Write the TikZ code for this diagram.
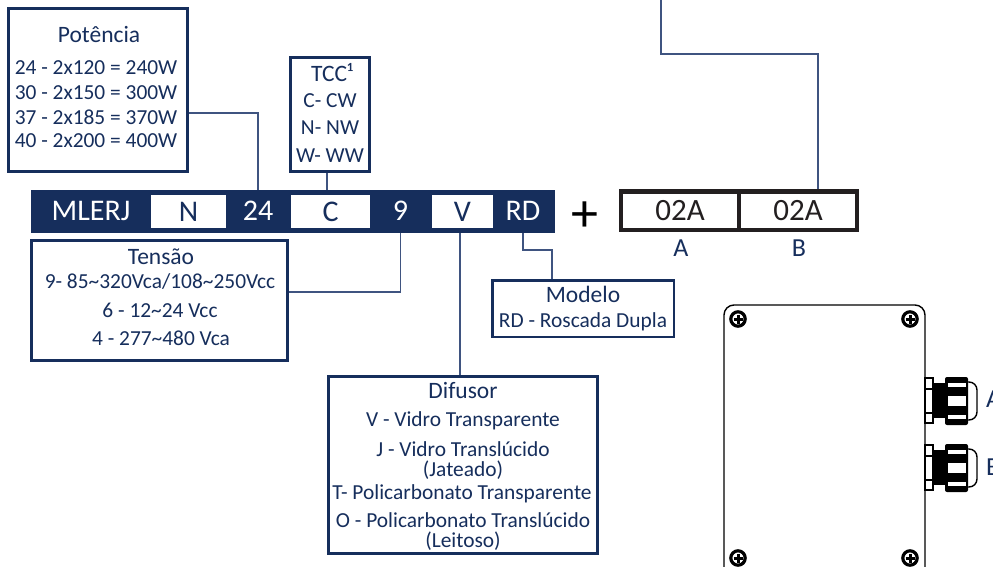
\documentclass[tikz,border=0pt]{standalone}
\usepackage{fontspec}
\setmainfont{Carlito}
\definecolor{navy}{HTML}{162E5C}
\definecolor{linkblue}{HTML}{3F5480}
\definecolor{framegray}{HTML}{231F20}
\tikzset{
	bluebox/.style={draw=navy,line width=3pt,fill=white,inner sep=0pt},
	thinbox/.style={bluebox,line width=2.5pt},
	cell/.style={fill=white,inner sep=0pt,text=navy,font=\fontsize{30}{34}\selectfont,minimum height=33pt},
	barcell/.style={inner sep=0pt,text=white,font=\fontsize{30}{34}\selectfont},
	codecell/.style={draw=framegray,line width=4.5pt,inner sep=0pt,text=framegray,font=\fontsize{31}{34}\selectfont,minimum height=38.5pt,minimum width=118pt},
	txt/.style={inner sep=0pt,text=navy,font=\fontsize{21.4}{25}\selectfont},
	twolines/.style={txt,align=center,font=\fontsize{21.4}{20}\selectfont},
	head/.style={inner sep=0pt,text=navy,font=\fontsize{23.5}{27}\selectfont},
	letter/.style={inner sep=0pt,text=navy,font=\fontsize{26}{30}\selectfont},
	link/.style={draw=linkblue,line width=1.4pt},
}
\begin{document}
\begin{tikzpicture}[x=1pt,y=-1pt]
	\useasboundingbox (0,0) rectangle (993,567);
	\clip (0,0) rectangle (993,567);

	% code bar
	\node[fill=navy,inner sep=0pt,minimum width=524pt,minimum height=43pt] (bar) at (293,211.5) {};
	\node[barcell] (mlerj) at (91,211) {MLERJ};
	\node[cell,minimum width=75pt] (cellN) at (188.5,211.5) {N};
	\node[barcell] (cell24) at (258,211) {24};
	\node[cell,minimum width=79pt] (cellC) at (330.5,211.5) {C};
	\node[barcell] (cell9) at (400.5,211) {9};
	\node[cell,minimum width=61pt] (cellV) at (462.5,211.5) {V};
	\node[barcell] (cellRD) at (523,211) {RD};
	\node[inner sep=0pt,font=\fontsize{54}{58}\selectfont] (plus) at (585,217) {+};

	% lamp codes
	\node[codecell] (codeA) at (680,210.5) {02A};
	\node[codecell] (codeB) at (798,210.5) {02A};
	\node[letter] (labelA) at (681,248) {A};
	\node[letter] (labelB) at (799,248) {B};

	% potencia
	\node[bluebox,minimum width=179pt,minimum height=162pt] (potencia) at (98,90) {};
	\node[head] (potTitle) at (99,35) {Potência};
	\node[txt] (pot24) at (96,68) {24 - 2x120 = 240W};
	\node[txt] (pot30) at (96,93) {30 - 2x150 = 300W};
	\node[txt] (pot37) at (96,117) {37 - 2x185 = 370W};
	\node[txt] (pot40) at (96,141) {40 - 2x200 = 400W};

	% tcc
	\node[thinbox,minimum width=79pt,minimum height=114pt] (tcc) at (330,114.5) {};
	\node[head] (tccTitle) at (332,73) {TCC¹};
	\node[txt] (tccC) at (330,101) {C- CW};
	\node[txt] (tccN) at (330,128) {N- NW};
	\node[txt] (tccW) at (330,156) {W- WW};

	% tensao
	\node[bluebox,minimum width=256pt,minimum height=120pt] (tensao) at (159.5,300.5) {};
	\node[head] (tenTitle) at (161,257) {Tensão};
	\node[txt] (ten9) at (160,282) {9- 85\textasciitilde320Vca/108\textasciitilde250Vcc};
	\node[txt] (ten6) at (160,310) {6 - 12\textasciitilde24 Vcc};
	\node[txt] (ten4) at (161,338) {4 - 277\textasciitilde480 Vca};

	% modelo
	\node[thinbox,minimum width=181.5pt,minimum height=56.5pt] (modelo) at (583,308.5) {};
	\node[head] (modTitle) at (583,294) {Modelo};
	\node[txt] (modRD) at (583,322) {RD - Roscada Dupla};

	% difusor
	\node[bluebox,minimum width=269pt,minimum height=177pt] (difusor) at (463,465) {};
	\node[head] (difTitle) at (463,390) {Difusor};
	\node[txt] (difV) at (463,421) {V - Vidro Transparente};
	\node[twolines] (difJ) at (463,461) {J - Vidro Translúcido\\(Jateado)};
	\node[txt] (difT) at (462,494) {T- Policarbonato Transparente};
	\node[twolines] (difO) at (463,532) {O - Policarbonato Translúcido\\(Leitoso)};

	% connectors
	\coordinate (topEnd) at (661,0);
	\coordinate (topBend) at (818,54);
	\coordinate (potBend) at (258,113);
	\coordinate (tenBend) at (400.5,292);
	\coordinate (rdBend) at (552,250);
	\coordinate (tccFoot) at (327,190);
	\coordinate (difTop) at (460,233);
	\draw[link] (potencia.east |- potBend) -| (cell24 |- bar.north);
	\draw[link] (tccFoot |- tcc.south) -- (tccFoot);
	\draw[link] (tensao.east |- tenBend) -| (cell9 |- bar.south);
	\draw[link] (cellRD |- bar.south) |- (rdBend) -- (rdBend |- modelo.north);
	\draw[link] (difTop) -- (difTop |- difusor.north);
	\draw[link] (topEnd) |- (topBend) -- (topBend |- codeB.north);

	% junction box
	\draw[line width=1.4pt,rounded corners=10pt] (724,600) -- (724,305) -- (925,305) -- (925,600);
	\foreach \sx/\sy in {738/319,910/319,738/558,910/558}
	{
		\draw[line width=3.2pt] (\sx,\sy) circle (7.2);
		\draw[line width=3pt] (\sx-4.5,\sy) -- (\sx+4.5,\sy);
		\draw[line width=3pt] (\sx,\sy-4.5) -- (\sx,\sy+4.5);
	}

	% cable glands
	\foreach \gy in {0,67}
	{
		\begin{scope}[yshift=-\gy pt]
			\draw[line width=1.3pt,fill=white] (925,378) rectangle (933,423);
			\draw[line width=1.3pt] (925,389) -- (933,389);
			\draw[line width=1.3pt] (925,413) -- (933,413);
			\fill (933,383) rectangle (946,418);
			\draw[line width=1.4pt,rounded corners=8pt] (966,382) -- (977,382) -- (977,420) -- (966,420);
			\fill[rounded corners=2pt] (945,377) rectangle (968,425);
			\fill[white] (948,396) rectangle (966,406);
			\fill[white] (948,383) rectangle (966,387);
			\fill[white] (948,415) rectangle (966,419);
		\end{scope}
	}
	\node[letter,anchor=west] (glandA) at (986,399) {A};
	\node[letter,anchor=west] (glandB) at (986,467) {B};
\end{tikzpicture}
\end{document}
